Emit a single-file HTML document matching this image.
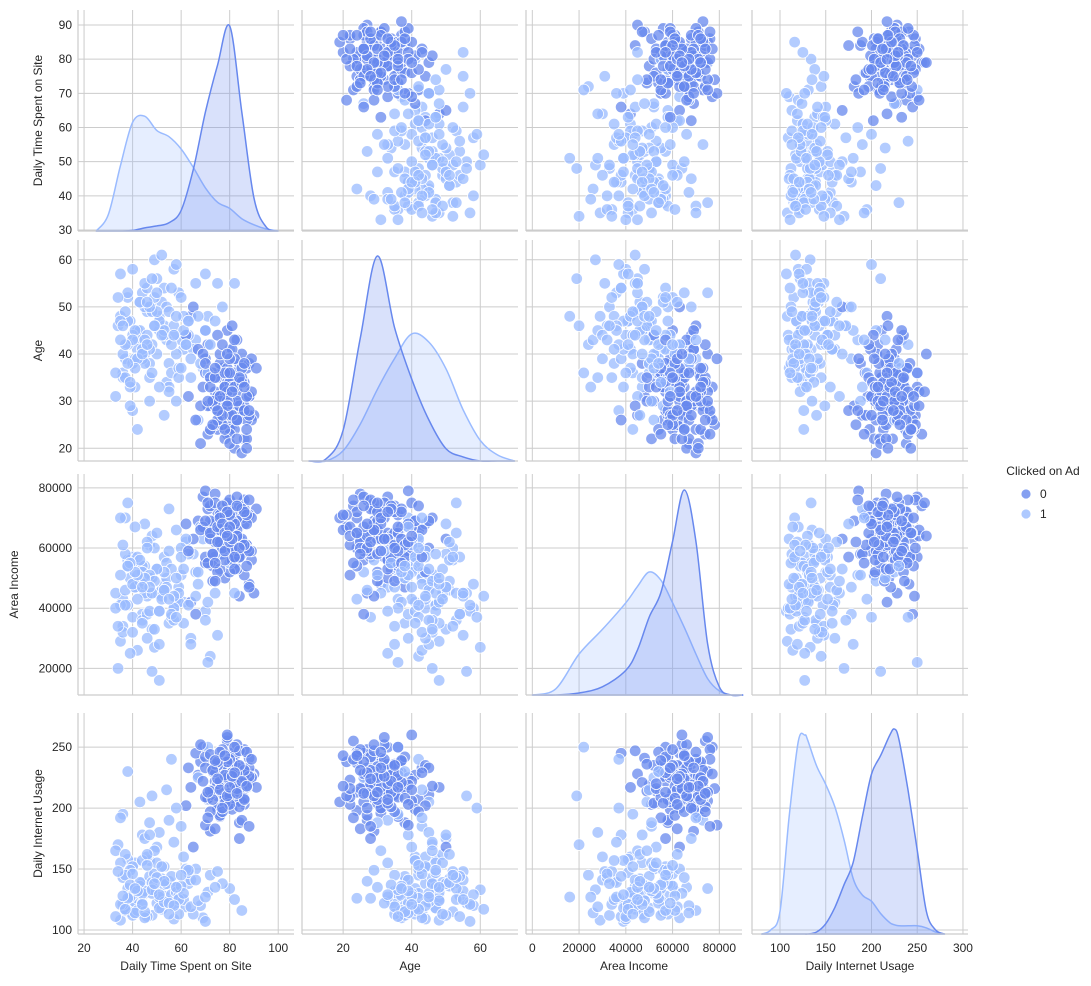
<!DOCTYPE html>
<html><head><meta charset="utf-8"><style>
body{margin:0;background:#fff;}
svg{display:block;font-family:"Liberation Sans",Arial,sans-serif;}
</style></head><body>
<svg id="chart" width="1091" height="986" viewBox="0 0 1091 986" xmlns="http://www.w3.org/2000/svg"></svg>
<script>
// ---- data (rows per class): time, age, income (k), internet ----
const varNames = ["Daily Time Spent on Site","Age","Area Income","Daily Internet Usage"];
const time0 = [78,82,75,88,71,80,84,77,69,86,73,79,90,76,81,74,85,68,83,72,87,79,77,64,81,75,89,70,84,78,62,86,80,73,76,82,88,71,79,85,67,83,74,80,77,87,72,84,78,81,66,75,89,82,70,86,79,76,83,73,80,85,77,91,74,81,69,84,78,87,72,80,76,83,65,88,79,82,75,86,
 76,83,79,72,87,81,74,85,78,70,88,80,75,84,77,82,73,86,79,71,89,76,83,78,68,85,80,74,87,81,77,72,84,79,86,75,82,70,88,78,83,76,80,73,85,79,74,87,81,77,84,71,82,78,86,75,80,63,83,79];
const age0 = [28,35,24,31,42,29,38,26,33,22,30,45,27,36,25,32,40,21,34,29,37,23,31,48,28,35,26,39,30,33,44,27,24,36,31,20,38,29,34,27,41,32,25,30,37,22,35,28,33,46,26,31,39,24,36,29,32,27,43,30,34,19,28,37,25,33,40,29,31,26,35,23,38,30,50,27,32,36,28,34,
 30,26,37,33,24,41,29,35,22,38,31,27,44,34,25,39,30,28,36,23,32,40,26,33,29,37,21,35,31,27,42,24,34,30,38,26,33,45,28,36,22,31,39,25,34,29,37,20,32,27,35,30,43,24,33,28,36,31,26,40];
const income0 = [62,55,70,48,66,73,58,64,77,51,68,60,45,71,63,57,75,67,53,69,61,74,59,42,65,72,56,79,63,50,68,76,60,54,71,66,47,73,62,58,69,64,78,52,67,61,74,57,65,70,38,63,59,72,55,68,75,61,66,49,64,70,58,73,62,56,67,44,71,60,65,76,53,69,63,59,72,57,66,61,
 66,59,72,63,54,69,75,61,67,57,71,64,52,74,60,68,58,73,65,55,70,62,77,56,66,63,71,49,68,60,74,65,57,72,61,67,53,69,76,59,64,70,62,58,73,66,55,71,63,68,60,75,57,65,72,62,67,59,74,64];
const internet0 = [215,232,198,241,207,225,188,219,250,203,236,211,228,193,245,222,206,238,214,181,229,255,199,217,240,210,226,186,234,219,202,248,213,230,196,243,221,208,235,190,227,252,216,204,239,223,211,175,231,218,245,200,225,237,209,220,258,194,233,214,228,205,242,217,183,236,222,247,209,229,197,240,216,224,168,233,211,250,220,227,
 222,205,238,214,246,199,230,218,209,242,226,212,235,201,248,219,207,231,224,192,240,215,228,204,252,221,210,236,217,229,197,244,213,225,208,238,220,233,185,227,216,246,203,231,222,210,239,218,226,200,235,213,229,243,207,224,217,233,212,260];
const time1 = [42,55,38,61,47,35,66,50,44,58,39,72,53,36,48,63,41,57,45,34,69,52,40,60,46,37,75,54,43,49,65,38,56,44,62,33,51,47,70,40,58,45,36,53,67,42,49,59,37,80,46,55,41,64,35,52,48,71,43,57,39,61,50,45,68,36,54,42,77,47,59,38,51,44,63,40,56,85,48,53,
 44,51,37,59,46,40,54,62,35,48,57,42,66,39,50,45,60,34,53,47,71,41,56,38,49,64,43,52,36,58,45,74,40,55,47,61,33,50,44,67,39,57,48,42,63,37,53,46,70,41,55,35,51,60,44,49,38,82,46,58];
const age1 = [45,38,52,41,35,48,43,56,39,30,47,42,54,36,50,44,33,58,40,46,37,51,28,43,49,39,55,34,45,60,41,47,36,53,42,31,48,38,57,44,40,50,35,46,26,43,52,37,49,41,54,33,45,39,47,61,42,36,51,44,29,48,40,55,38,46,43,24,50,41,35,53,45,39,47,58,42,37,49,44,
 40,47,35,53,44,38,50,42,57,36,46,41,55,33,49,43,37,52,45,30,48,39,54,42,46,35,51,44,40,59,38,47,43,32,50,45,36,53,41,48,34,44,56,39,47,42,27,51,45,37,49,43,33,52,40,46,38,55,42,48];
const income1 = [48,35,56,42,61,29,52,45,38,66,50,24,57,43,33,59,47,40,54,20,63,46,37,51,44,70,31,55,49,27,58,41,53,36,62,45,16,50,39,57,43,68,34,48,52,26,60,42,46,55,38,73,47,30,51,44,64,22,49,40,56,35,53,45,67,32,50,43,58,39,47,75,28,54,41,48,37,61,45,52,
 52,39,58,45,30,55,47,63,41,50,36,57,44,25,53,48,60,34,46,51,42,67,38,54,49,28,56,43,61,37,50,45,32,59,47,53,40,65,35,48,55,44,19,51,58,41,46,62,36,52,43,70,39,57,47,33,54,45,60,50];
const internet1 = [125,140,115,160,132,108,150,122,178,135,118,145,128,195,112,138,155,120,130,170,110,142,126,185,136,116,148,124,205,133,113,158,129,139,119,165,127,144,107,152,131,175,121,137,225,114,146,128,162,134,111,190,123,141,155,117,130,250,136,109,149,125,168,132,120,143,215,126,138,157,113,134,180,122,147,129,240,116,139,152,
 130,118,145,125,160,112,138,150,121,133,172,116,141,127,155,110,136,148,123,188,131,114,144,126,165,119,139,152,128,200,115,135,146,122,178,130,111,143,157,124,137,120,210,132,149,117,140,162,127,134,113,192,129,145,121,138,230,125,153,135];
// ---- KDE curves (relative density) ----
const kdeTimeX = [25,30,35,40,45,50,55,60,65,70,75,80,85,90,95,100];
const kdeTime0 = [0,0,0,0.003,0.015,0.025,0.04,0.1,0.3,0.58,0.81,1.0,0.58,0.16,0.02,0];
const kdeTime1 = [0,0.08,0.32,0.53,0.56,0.49,0.46,0.4,0.31,0.21,0.14,0.11,0.06,0.03,0.01,0];
const kdeAgeX = [10,15,20,25,30,35,40,45,50,55,60,65,70];
const kdeAge0 = [0,0.01,0.15,0.6,1.0,0.65,0.4,0.2,0.06,0.02,0,0,0];
const kdeAge1 = [0,0,0.05,0.18,0.35,0.5,0.62,0.58,0.45,0.25,0.1,0.03,0];
const kdeIncX = [0,10,20,30,40,45,50,55,60,65,70,75,80,85,90];
const kdeInc0 = [0,0,0.01,0.04,0.12,0.22,0.38,0.5,0.75,1.0,0.75,0.25,0.04,0,0];
const kdeInc1 = [0,0.03,0.2,0.32,0.45,0.53,0.6,0.56,0.45,0.33,0.2,0.08,0.02,0,0];
const kdeNetX = [80,90,100,110,120,127,130,140,150,160,170,180,190,200,210,220,225,230,240,250,260,270,280];
const kdeNet0 = [0,0,0,0,0,0,0,0.01,0.05,0.13,0.24,0.35,0.57,0.78,0.87,0.97,1.0,0.95,0.7,0.41,0.11,0.02,0];
const kdeNet1 = [0,0.02,0.11,0.57,0.94,0.97,0.95,0.82,0.73,0.62,0.46,0.27,0.19,0.16,0.1,0.055,0.045,0.04,0.04,0.04,0.03,0.01,0];
// ---- tick labels ----
const ticks = [[20,40,60,80,100],[20,40,60],[0,20,40,60,80],[100,150,200,250,300]];
const yticks = [[30,40,50,60,70,80,90],[20,30,40,50,60],[20,40,60,80],[100,150,200,250]];
const tickFmt = [v=>String(v),v=>String(v),v=>v===0?"0":(v*1000).toString(),v=>String(v)];

const NS="http://www.w3.org/2000/svg";
const svg=document.getElementById('chart');
function mk(tag,attrs,parent){const e=document.createElementNS(NS,tag);for(const k in attrs)e.setAttribute(k,attrs[k]);(parent||svg).appendChild(e);return e;}

const lefts=[78,302,526,752], W=216;
const tops=[10,240,474,713], H=221;
const xDom=[[17.5,106.5],[8,71],[-2.7,89.7],[69.4,305.5]];
const yDom=[[29.7,94.4],[17.3,64.2],[11.15,84.6],[96.7,278]];
function sx(c,v){const d=xDom[c];return lefts[c]+(v-d[0])/(d[1]-d[0])*W;}
function sy(r,v){const d=yDom[r];return tops[r]+H-(v-d[0])/(d[1]-d[0])*H;}
const cols=[[time0,age0,income0,internet0],[time1,age1,income1,internet1]];
const C0="#6788ee", C1="#9abbff";
const kdes=[[kdeTimeX,kdeTime0,kdeTime1],[kdeAgeX,kdeAge0,kdeAge1],[kdeIncX,kdeInc0,kdeInc1],[kdeNetX,kdeNet0,kdeNet1]];

function smoothPath(pts){
  let d='M'+pts[0][0].toFixed(1)+','+pts[0][1].toFixed(1);
  for(let i=0;i<pts.length-1;i++){
    const p0=pts[Math.max(0,i-1)],p1=pts[i],p2=pts[i+1],p3=pts[Math.min(pts.length-1,i+2)];
    const c1=[p1[0]+(p2[0]-p0[0])/6,p1[1]+(p2[1]-p0[1])/6];
    const c2=[p2[0]-(p3[0]-p1[0])/6,p2[1]-(p3[1]-p1[1])/6];
    d+=' C'+c1[0].toFixed(1)+','+c1[1].toFixed(1)+' '+c2[0].toFixed(1)+','+c2[1].toFixed(1)+' '+p2[0].toFixed(1)+','+p2[1].toFixed(1);
  }
  return d;
}

for(let r=0;r<4;r++)for(let c=0;c<4;c++){
  const g=mk('g',{});
  
  
  const L=lefts[c],T=tops[r],B=T+H,R=L+W;
  ticks[c].forEach(v=>{const x=sx(c,v);const l=mk('line',{x1:x,x2:x,y1:T,y2:B,stroke:'#cccccc','stroke-width':1},g);});
  yticks[r].forEach(v=>{const y=sy(r,v);const l=mk('line',{x1:L,x2:R,y1:y,y2:y,stroke:'#cccccc','stroke-width':1},g);});
  if(r!==c){
    const xs=cols.map(cl=>cl[c]), ys=cols.map(cl=>cl[r]);
    const n=Math.max(xs[0].length,xs[1].length);
    for(let i=0;i<n;i++)for(let k=0;k<2;k++){
      if(i>=xs[k].length)continue;
      const p=mk('circle',{cx:sx(c,xs[k][i]),cy:sy(r,ys[k][i]),r:5.8,fill:k?C1:C0,'fill-opacity':0.75,stroke:'#fff','stroke-width':0.8},g);
      
      
    }
  } else {
    const [kx,k0,k1]=kdes[c];
    [[k1,C1],[k0,C0]].forEach(([kd,col],idx)=>{
      const pts=kx.map((v,i)=>[sx(c,v),B-kd[i]*205]);
      const d=smoothPath(pts)+' L'+pts[pts.length-1][0].toFixed(1)+','+B+' L'+pts[0][0].toFixed(1)+','+B+' Z';
      const p=mk('path',{d:d,fill:col,'fill-opacity':0.25,stroke:col,'stroke-width':1.5,'stroke-linejoin':'round'},g);
      
      
    });
  }
  const sl=mk('line',{x1:L,x2:L,y1:T,y2:B,stroke:'#cccccc','stroke-width':1.2},g);
  const sb=mk('line',{x1:L,x2:R,y1:B,y2:B,stroke:'#cccccc','stroke-width':1.2},g);
  if(r===3){
    ticks[c].forEach(v=>{const t=mk('text',{x:sx(c,v),y:B+18,'text-anchor':'middle','font-size':12,fill:'#262626'},g);t.textContent=tickFmt[c](v);});
    const xl=mk('text',{x:L+W/2,y:B+36,'text-anchor':'middle','font-size':12,fill:'#262626'},g);xl.textContent=varNames[c];
  }
  if(c===0){
    yticks[r].forEach(v=>{const t=mk('text',{x:L-6,y:sy(r,v)+4,'text-anchor':'end','font-size':12,fill:'#262626'},g);t.textContent=tickFmt[r](v);});
    const yx=r===2?18:42;
    const yl=mk('text',{x:yx,y:T+H/2,'text-anchor':'middle','font-size':12,fill:'#262626',transform:'rotate(-90 '+yx+' '+(T+H/2)+')'},g);yl.textContent=varNames[r];
  }
}
const lg=mk('g',{});


const lt=mk('text',{x:1043,y:475,'text-anchor':'middle','font-size':12,fill:'#262626'},lg);lt.textContent='Clicked on Ad';
[[C0,'0',494],[C1,'1',514]].forEach(([col,lab,y])=>{
  const e=mk('g',{},lg);
  
  
  mk('circle',{cx:1026,cy:y,r:5,fill:col,'fill-opacity':0.8,stroke:'#fff','stroke-width':0.8},e);
  const t=mk('text',{x:1040,y:y+4,'font-size':12,fill:'#262626'},e);t.textContent=lab;
});
</script>
</body></html>
